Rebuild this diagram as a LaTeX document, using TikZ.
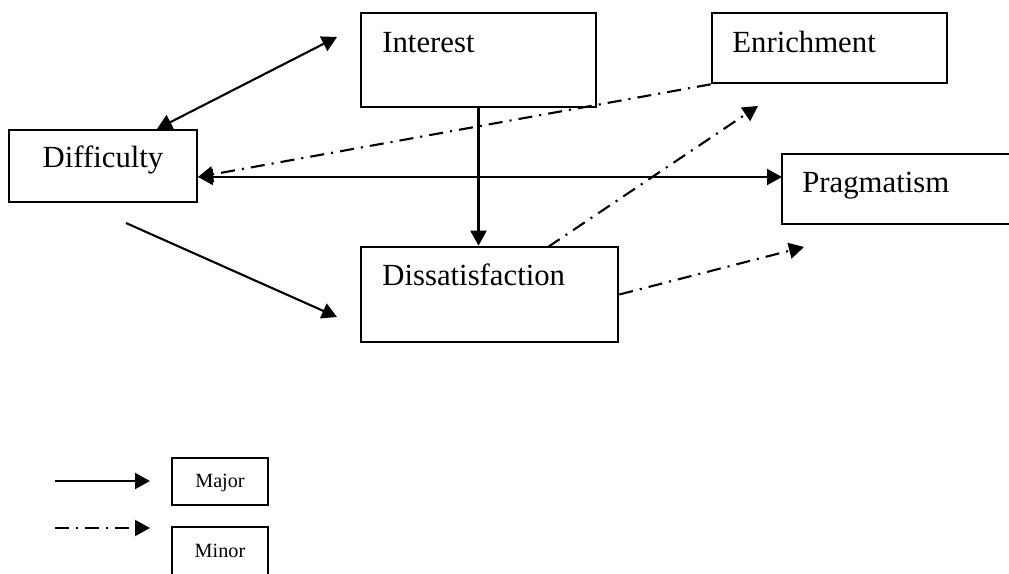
\documentclass[tikz,border=0pt]{standalone}
\usepackage{fontspec}
\setmainfont{Liberation Serif}
\usetikzlibrary{arrows.meta}
\tikzset{
	box/.style={draw, line width=1.5pt, inner sep=0pt},
	lbl/.style={inner sep=0pt, font=\fontsize{17.5}{21}\selectfont},
	lgd/.style={inner sep=0pt, font=\fontsize{11.5}{14}\selectfont},
	major/.style={line width=1.2pt, -{Triangle[length=0.3cm, width=0.32cm]}},
	minor/.style={major, dash pattern=on 8pt off 4pt on 1.2pt off 4pt}
}

\begin{document}
\begin{tikzpicture}[x=0.02cm, y=-0.02cm]
		%%%%% START %%%%%
		\useasboundingbox (0, 0) rectangle (1009, 574);
		
		\node[box, minimum width=3.76cm, minimum height=1.44cm] (dif) at (103, 166) {};
		\node[box, minimum width=4.7cm, minimum height=1.88cm] (int) at (478.5, 60) {};
		\node[box, minimum width=4.7cm, minimum height=1.4cm] (enr) at (829.5, 48) {};
		\node[box, minimum width=4.66cm, minimum height=1.4cm] (pra) at (898.5, 189) {};
		\node[box, minimum width=5.14cm, minimum height=1.9cm] (dis) at (489.5, 294.5) {};
		
		\node[lbl, anchor=base] (tDif) at (103, 168) {Difficulty};
		\node[lbl, anchor=base west] (tInt) at (382, 53) {Interest};
		\node[lbl, anchor=base west] (tEnr) at (732, 53) {Enrichment};
		\node[lbl, anchor=base west] (tPra) at (802, 193) {Pragmatism};
		\node[lbl, anchor=base west] (tDis) at (382, 286) {Dissatisfaction};
		
		% free ends of the connectors
		\coordinate (difN) at (157, 129);
		\coordinate (intW) at (337, 37);
		\coordinate (difE) at (198, 177);
		\coordinate (praW) at (782, 177);
		\coordinate (difS) at (126, 223);
		\coordinate (disW) at (337, 317);
		\coordinate (enrS) at (758, 106);
		\coordinate (disN) at (548, 247);
		\coordinate (praS) at (804, 247);
		
		\draw[major, {Triangle[length=0.3cm, width=0.32cm]}-{Triangle[length=0.3cm, width=0.32cm]}] (difN) -- (intW);
		\draw[major, {Triangle[length=0.3cm, width=0.32cm]}-{Triangle[length=0.3cm, width=0.32cm]}] (difE) -- (praW);
		\draw[major] (int.south) -- (int.south |- dis.north);
		\draw[major] (difS) -- (disW);
		
		\draw[minor] (enr.south west) -- (difE);
		\draw[minor] (disN) -- (enrS);
		\draw[minor] (dis.east) -- (praS);
		
		% legend
		\node[box, line width=1.2pt, minimum width=1.92cm, minimum height=0.94cm] (maj) at (220, 481.5) {};
		\node[box, line width=1.2pt, minimum width=1.92cm, minimum height=1.0cm] (min) at (220, 552) {};
		\node[lgd, anchor=base] (tMaj) at (220, 488) {Major};
		\node[lgd, anchor=base] (tMin) at (220, 558) {Minor};
		\coordinate (majA) at (55, 481);
		\coordinate (majB) at (150, 481);
		\coordinate (minA) at (55, 528);
		\coordinate (minB) at (150, 528);
		\draw[major] (majA) -- (majB);
		\draw[minor] (minA) -- (minB);
		
		%%%%% END %%%%%
	\end{tikzpicture}
\end{document}
